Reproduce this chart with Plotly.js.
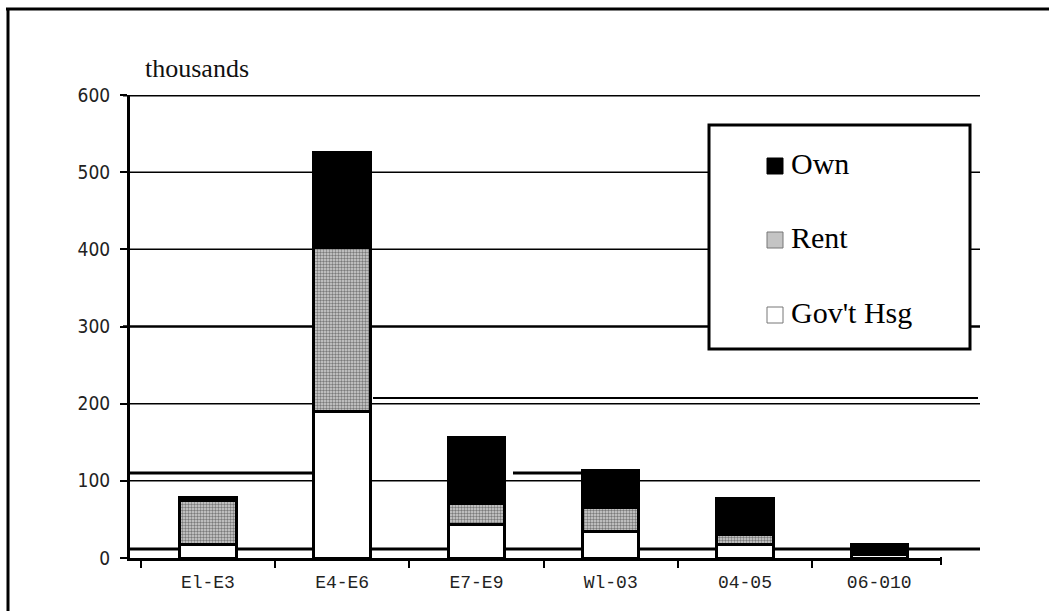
<!DOCTYPE html>
<html>
<head>
<meta charset="utf-8">
<script src="https://cdn.plot.ly/plotly-3.0.1.min.js"></script>
<style>
  html, body { margin: 0; padding: 0; background: #ffffff; }
  #chart { width: 1049px; height: 611px; }
</style>
</head>
<body>
<div id="chart"></div>
<script>
// Housing by pay grade group, stacked (thousands)
const categories = ['El-E3', 'E4-E6', 'E7-E9', 'Wl-03', '04-05', '06-010'];
const govtHsg = [17, 190, 44, 34, 17, 4];
const rent    = [58, 212, 27, 32, 13, 2];
const own     = [3, 123, 85, 48, 47, 12];
const seriesNames = ['Own', 'Rent', "Gov't Hsg"];
const yTickValues = [0, 100, 200, 300, 400, 500, 600];
const unitLabel = 'thousands';

// page geometry (px)
const W = 1049, H = 611;
const L = 130, R = 941, T = 95, B = 558;
const px = p => (p - L) / (R - L);
const py = p => (B - p) / (B - T);

const barLine = { color: '#000000', width: 3 };

const traces = [
  {
    type: 'bar', name: seriesNames[2], x: categories, y: govtHsg,
    marker: { color: '#ffffff', line: barLine }, showlegend: false
  },
  {
    type: 'bar', name: seriesNames[1], x: categories, y: rent,
    marker: {
      color: '#cfcfcf', line: barLine,
      pattern: { shape: '.', bgcolor: '#d4d4d4', fgcolor: '#7a7a7a', size: 3, solidity: 0.5, fillmode: 'replace' }
    },
    showlegend: false
  },
  {
    type: 'bar', name: seriesNames[0], x: categories, y: own,
    marker: { color: '#000000', line: barLine }, showlegend: false
  }
];

const shapes = [];
function hline(x0, x1, yPx, w) {
  shapes.push({ type: 'line', layer: 'below', xref: 'paper', yref: 'paper',
    x0: px(x0), x1: px(x1), y0: py(yPx), y1: py(yPx), line: { color: '#000', width: w } });
}

// horizontal gridlines, running past the plot on the right
yTickValues.filter(v => v > 0).forEach(v => {
  shapes.push({ type: 'line', layer: 'below', xref: 'paper', yref: 'y',
    x0: px(123), x1: px(980), y0: v, y1: v,
    line: { color: '#000', width: v === 600 ? 3 : (v === 300 ? 2.5 : 1.5) } });
});

// doubled rules from the printed page
hline(130, 980, 549, 3);
hline(130, 315, 473, 3);
hline(513, 587, 473, 3);
hline(373, 978, 398, 2);

// closing tick at the right end of the category axis
shapes.push({ type: 'line', xref: 'paper', yref: 'paper',
  x0: px(941), x1: px(941), y0: py(557), y1: py(565), line: { color: '#000', width: 2 } });

// page frame (left and top edges)
shapes.push({ type: 'line', xref: 'paper', yref: 'paper',
  x0: px(8), x1: px(8), y0: py(8), y1: py(611), line: { color: '#000', width: 3 } });
shapes.push({ type: 'line', xref: 'paper', yref: 'paper',
  x0: px(6), x1: px(1049), y0: py(9), y1: py(9), line: { color: '#000', width: 3 } });

// key box
shapes.push({ type: 'rect', layer: 'below', xref: 'paper', yref: 'paper',
  x0: px(709), x1: px(970), y0: py(125), y1: py(349),
  fillcolor: '#ffffff', line: { color: '#000', width: 3 } });

const keyRows = [
  { name: seriesNames[0], cy: 166, fill: '#000000', edge: '#000000' },
  { name: seriesNames[1], cy: 240, fill: '#c4c4c4', edge: '#777777' },
  { name: seriesNames[2], cy: 315, fill: '#ffffff', edge: '#777777' }
];
const annotations = [];
keyRows.forEach(r => {
  shapes.push({ type: 'rect', layer: 'below', xref: 'paper', yref: 'paper',
    x0: px(767), x1: px(783), y0: py(r.cy + 8), y1: py(r.cy - 8),
    fillcolor: r.fill, line: { color: r.edge, width: 1 } });
  annotations.push({ xref: 'paper', yref: 'paper', x: px(789), y: py(r.cy - 3),
    xanchor: 'left', yanchor: 'middle', showarrow: false, text: r.name,
    font: { family: 'Liberation Serif, Times New Roman, serif', size: 30, color: '#000' } });
});

annotations.push({ xref: 'paper', yref: 'paper', x: px(143), y: py(68),
  xanchor: 'left', yanchor: 'middle', showarrow: false, text: unitLabel,
  font: { family: 'Liberation Serif, Times New Roman, serif', size: 26, color: '#111' } });

const layout = {
  width: W, height: H,
  margin: { l: L, r: W - R, t: T, b: H - B, pad: 0 },
  paper_bgcolor: '#ffffff', plot_bgcolor: 'rgba(0,0,0,0)',
  barmode: 'stack', bargap: 0.58,
  showlegend: false,
  xaxis: {
    type: 'category', range: [-0.58, 5.46],
    showgrid: false, zeroline: false,
    showline: true, linecolor: '#000', linewidth: 3,
    ticks: 'outside', tickson: 'boundaries', ticklen: 7, tickwidth: 2, tickcolor: '#000',
    ticklabelstandoff: 5,
    tickfont: { family: 'Liberation Mono, Courier New, monospace', size: 18, color: '#222' }
  },
  yaxis: {
    range: [0, 600], tickvals: yTickValues, ticktext: yTickValues.map(String),
    showgrid: false, zeroline: false,
    showline: true, linecolor: '#000', linewidth: 3,
    ticks: 'outside', ticklen: 7, tickwidth: 2, tickcolor: '#000',
    ticklabelstandoff: 6,
    tickfont: { family: 'Liberation Sans Narrow, DejaVu Sans Condensed, DejaVu Sans, sans-serif', size: 19, color: '#222' }
  },
  shapes: shapes,
  annotations: annotations
};

Plotly.newPlot('chart', traces, layout, { displayModeBar: false, staticPlot: true });
</script>
</body>
</html>
